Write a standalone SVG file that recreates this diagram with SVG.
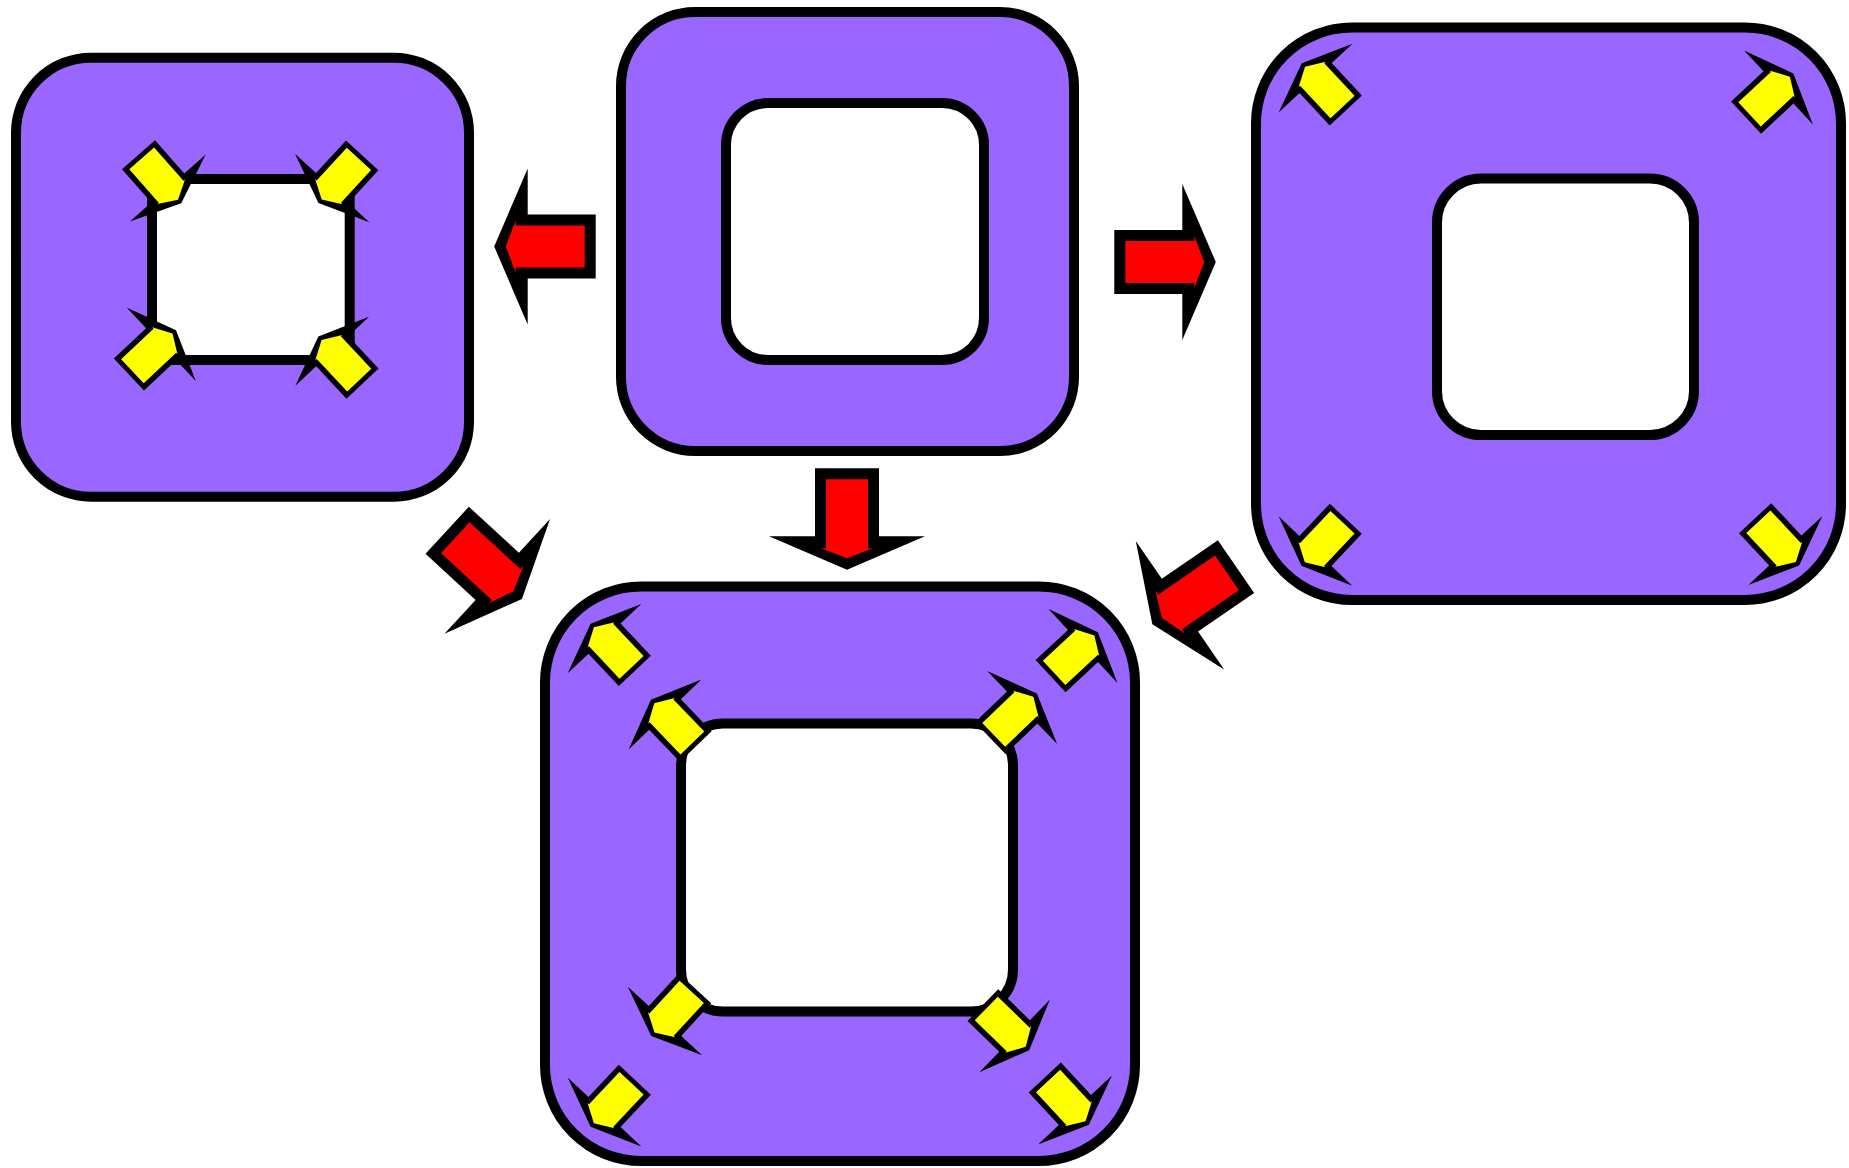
<svg xmlns="http://www.w3.org/2000/svg" width="1849" height="1168" viewBox="0 0 1849 1168">
<style>
.outer{fill:#9966ff;stroke:#000;stroke-width:10}
.inner{fill:#fff;stroke:#000;stroke-width:10}
</style>
<defs>
<g id="red">
<polygon points="0,-32 68,-32 68,-78 101.5,0 68,78 68,32 0,32" fill="#000"/>
<polygon points="11,-21 80,-21 80,-26 90,0 80,26 80,21 11,21" fill="#ff0000"/>
</g>
<g id="yel">
<polygon points="-44.3,-22 0,-22 0,-50.5 20.3,0 0,50.5 0,22 -44.3,22" fill="#000"/>
<polygon points="-39.5,-16.5 5,-16.5 5,-18.5 15.5,0 5,18.5 5,16.5 -39.5,16.5" fill="#ffff00"/>
</g>
</defs>
<rect width="1849" height="1168" fill="#fff"/>
<g id="node-left">
<rect class="outer" x="16" y="57.7" width="453" height="439" rx="75"/>
<rect class="inner" x="152" y="179" width="197.7" height="181" rx="12"/>
<use href="#yel" transform="translate(167.8,188) rotate(48.6)"/>
<use href="#yel" transform="translate(332.2,188) rotate(132.6)"/>
<use href="#yel" transform="translate(161.2,344.2) rotate(-43.2)"/>
<use href="#yel" transform="translate(332.2,351.3) rotate(-133.2)"/>
</g>
<g id="node-center">
<rect class="outer" x="621" y="12" width="453" height="439" rx="74"/>
<rect class="inner" x="726" y="103" width="258" height="257" rx="42"/>
</g>
<g id="node-right">
<rect class="outer" x="1256" y="27.5" width="585" height="572.5" rx="96"/>
<rect class="inner" x="1437" y="178.5" width="257" height="256.5" rx="44"/>
<use href="#yel" transform="translate(1315.6,78.1) rotate(-133)"/>
<use href="#yel" transform="translate(1778.5,87.4) rotate(-42.9)"/>
<use href="#yel" transform="translate(1315.4,551) rotate(133.3)"/>
<use href="#yel" transform="translate(1785.3,550.6) rotate(47)"/>
</g>
<g id="node-bottom">
<rect class="outer" x="545" y="586.5" width="590" height="574.5" rx="96"/>
<rect class="inner" x="681" y="723.5" width="332" height="288" rx="42"/>
<use href="#yel" transform="translate(604.5,638.6) rotate(-133.2)"/>
<use href="#yel" transform="translate(665,714.5) rotate(-133.9)"/>
<use href="#yel" transform="translate(1022.2,707.5) rotate(-43.8)"/>
<use href="#yel" transform="translate(1083,646) rotate(-43)"/>
<use href="#yel" transform="translate(665,1021) rotate(132.6)"/>
<use href="#yel" transform="translate(1014.6,1036) rotate(44.2)"/>
<use href="#yel" transform="translate(604.5,1112) rotate(133.2)"/>
<use href="#yel" transform="translate(1075,1110) rotate(47)"/>
</g>
<g id="connectors">
<use href="#red" transform="translate(595.7,246.5) rotate(180)"/>
<use href="#red" transform="translate(1114.3,262) rotate(0)"/>
<use href="#red" transform="translate(847,468.3) rotate(90)"/>
<use href="#red" transform="translate(447.2,530.3) rotate(42.6)"/>
<use href="#red" transform="translate(1236,566.7) rotate(145.5)"/>
</g>
</svg>
